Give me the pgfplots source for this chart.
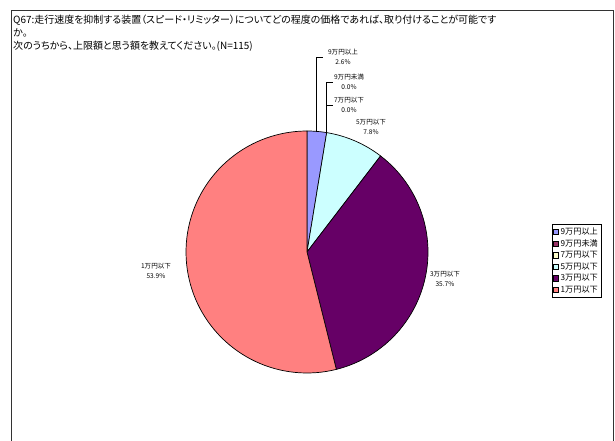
\documentclass[border=0pt]{standalone}
\usepackage{fontspec}
\setmainfont{Noto Sans CJK JP}[RawFeature=+palt]
\usepackage{pgfplots}
\usepackage{pgfplotstable}
\pgfplotsset{compat=1.18}

\definecolor{c1}{HTML}{9999FF}
\definecolor{c2}{HTML}{993366}
\definecolor{c3}{HTML}{FFFFCC}
\definecolor{c4}{HTML}{CCFFFF}
\definecolor{c5}{HTML}{660066}
\definecolor{c6}{HTML}{FF8080}

% share in percent, clockwise from 12 o'clock
\pgfplotstableread[col sep=comma]{
label,pct,col
9万円以上,2.6,c1
9万円未満,0.0,c2
7万円以下,0.0,c3
5万円以下,7.8,c4
3万円以下,35.7,c5
1万円以下,53.9,c6
}\piedata

\tikzset{
  leglbl/.style={font=\fontsize{6.6}{9.5}\selectfont, align=center, inner sep=0pt},
  leader/.style={draw=black, line width=0.6pt},
}

\begin{document}
\begin{tikzpicture}
\begin{axis}[
  width=615bp, height=441bp, scale only axis,
  xmin=0, xmax=615, ymin=0, ymax=441, y dir=reverse,
  hide axis, clip=false,
  legend image code/.code={\draw[#1, draw=black, line width=0.4pt] (0bp,-2.6bp) rectangle (5.2bp,2.6bp);},
  legend style={at={(0.897,0.492)}, anchor=north west, draw=black, line width=0.5pt,
    font=\fontsize{8.2}{11}\selectfont, inner sep=1.2pt, row sep=-0.4pt,
    cells={anchor=west}, /tikz/every even column/.append style={column sep=-3pt}},
  legend cell align=left,
]
% frame
\draw[black!80, line width=1bp] (axis cs:11,445) -- (axis cs:11,11) -- (axis cs:613,11) -- (axis cs:613,445);

% wedges
\def\cum{0}
\pgfplotsforeachungrouped \i in {0,...,5}{
  \pgfplotstablegetelem{\i}{pct}\of\piedata \let\p\pgfplotsretval
  \pgfplotstablegetelem{\i}{col}\of\piedata \let\slicecol\pgfplotsretval
  \pgfmathsetmacro\ang{90-3.6*\cum}
  \pgfmathsetmacro\bng{90-3.6*(\cum+\p)}
  \ifdim\p pt>0pt
    \edef\temp{\noexpand\addplot[forget plot, draw=black, line width=0.7pt, fill=\slicecol,
      domain=\bng:\ang, samples=80, variable=\noexpand\t]
      ({307+121*cos(\noexpand\t)},{252-121*sin(\noexpand\t)}) -- (axis cs:307,252) -- cycle;}
    \temp
  \fi
  \pgfmathsetmacro\cum{\cum+\p}
}

% legend
\addlegendimage{fill=c1}\addlegendentry{9万円以上}
\addlegendimage{fill=c2}\addlegendentry{9万円未満}
\addlegendimage{fill=c3}\addlegendentry{7万円以下}
\addlegendimage{fill=c4}\addlegendentry{5万円以下}
\addlegendimage{fill=c5}\addlegendentry{3万円以下}
\addlegendimage{fill=c6}\addlegendentry{1万円以下}

% title
\node[anchor=west, inner sep=0pt, font=\fontsize{10}{12}\selectfont] at (axis cs:13,20)
  {Q67:走行速度を抑制する装置（スピード・リミッター）についてどの程度の価格であれば、取り付けることが可能です};
\node[anchor=west, inner sep=0pt, font=\fontsize{10}{12}\selectfont] at (axis cs:13,33) {か。};
\node[anchor=west, inner sep=0pt, font=\fontsize{10}{12}\selectfont] at (axis cs:13,46)
  {次のうちから、上限額と思う額を教えてください。(N=115)};

% leaders
\draw[leader] (axis cs:316,132) -- (axis cs:316,57) -- (axis cs:323,57);
\draw[leader] (axis cs:326.5,133) -- (axis cs:326.5,82) -- (axis cs:333,82);
\draw[leader] (axis cs:326.5,105) -- (axis cs:333,105);

% data labels
\node[leglbl] at (axis cs:343,57) {9万円以上\\2.6\%};
\node[leglbl] at (axis cs:349,82) {9万円未満\\0.0\%};
\node[leglbl] at (axis cs:349,105) {7万円以下\\0.0\%};
\node[leglbl] at (axis cs:371,127) {5万円以下\\7.8\%};
\node[leglbl] at (axis cs:445,279) {3万円以下\\35.7\%};
\node[leglbl] at (axis cs:156,271) {1万円以下\\53.9\%};
\end{axis}
\pgfresetboundingbox
\path[use as bounding box] (current axis.south west) rectangle (current axis.north east);
\end{tikzpicture}
\end{document}
